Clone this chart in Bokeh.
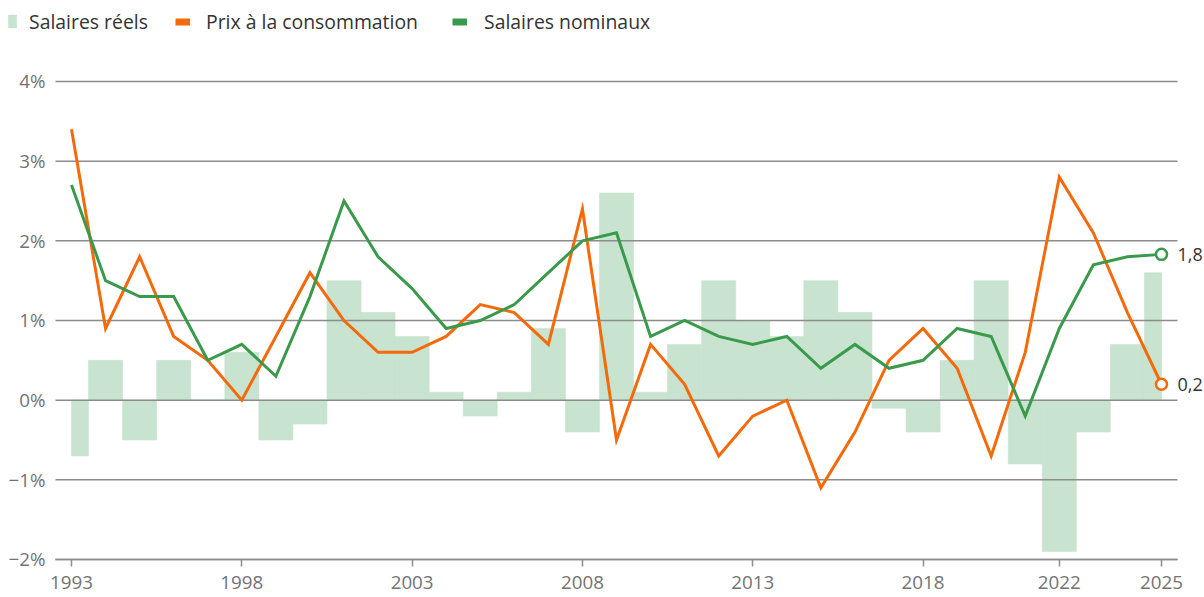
import numpy as np
from bokeh.plotting import figure
from bokeh.models import Range1d, FixedTicker, Legend, LegendItem, ColumnDataSource
from bokeh.core.properties import value
from bokeh.embed import file_html
from bokeh.resources import INLINE

# ---------------- data ----------------
years = list(range(1993, 2026))
salaires_reels = [-0.7, 0.5, -0.5, 0.5, 0.0, 0.6, -0.5, -0.3, 1.5, 1.1, 0.8, 0.1, -0.2, 0.1, 0.9,
                  -0.4, 2.6, 0.1, 0.7, 1.5, 1.0, 0.8, 1.5, 1.1, -0.1, -0.4, 0.5, 1.5, -0.8, -1.9,
                  -0.4, 0.7, 1.6]
prix_conso = [3.4, 0.9, 1.8, 0.8, 0.5, 0.0, 0.8, 1.6, 1.0, 0.6, 0.6, 0.8, 1.2, 1.1, 0.7, 2.4,
              -0.5, 0.7, 0.2, -0.7, -0.2, 0.0, -1.1, -0.4, 0.5, 0.9, 0.4, -0.7, 0.6, 2.8, 2.1,
              1.1, 0.2]
salaires_nominaux = [2.7, 1.5, 1.3, 1.3, 0.5, 0.7, 0.3, 1.3, 2.5, 1.8, 1.4, 0.9, 1.0, 1.2, 1.6,
                     2.0, 2.1, 0.8, 1.0, 0.8, 0.7, 0.8, 0.4, 0.7, 0.4, 0.5, 0.9, 0.8, -0.2, 0.9,
                     1.7, 1.8, 1.83]
x_ticks = [1993, 1998, 2003, 2008, 2013, 2018, 2022, 2025]
y_ticks = [-2, -1, 0, 1, 2, 3, 4]
legend_labels = ["Salaires réels", "Prix à la consommation", "Salaires nominaux"]

# ---------------- style ----------------
ORANGE = "#f46a0a"
GREEN = "#3a9a4c"
BAR = "#c8e3cf"
GRID = "#8c8c8c"
TICK_TXT = "#737373"
TXT = "#333333"
FONT = "Open Sans"
TICK_SIZE = "18.8px"
LEGEND_SIZE = "19.4px"

W, H = 1204, 597
# the frame covers the whole canvas; axes are pinned inside it
X_START, X_END = 1990.9156, 2026.2624
X_GRID_START, X_GRID_END = 1992.53, 2025.47
Y_START, Y_END = -2.477, 5.0167

p = figure(width=W, height=H, output_backend="svg", toolbar_location=None,
           x_range=Range1d(X_START, X_END), y_range=Range1d(Y_START, Y_END),
           min_border_left=0, min_border_right=0, min_border_top=0, min_border_bottom=0)
p.outline_line_color = None
p.background_fill_color = "white"
p.border_fill_color = "white"

# horizontal grid lines
n = len(y_ticks)
p.segment(x0=[X_GRID_START] * n, x1=[X_GRID_END] * n, y0=y_ticks, y1=y_ticks,
          line_color=GRID, line_width=1.5, level="underlay")

# bars (step-like, clipped to the first / last year)
yrs = np.array(years, dtype=float)
left = np.maximum(yrs - 0.5, years[0])
right = np.minimum(yrs + 0.5, years[-1])
bar_src = ColumnDataSource(dict(left=left, right=right, top=salaires_reels,
                                bottom=np.zeros(len(years))))
bars = p.quad(left="left", right="right", top="top", bottom="bottom", source=bar_src,
              fill_color=BAR, line_color=BAR, line_width=0.6, level="image")

l_prix = p.line(years, prix_conso, line_color=ORANGE, line_width=3, line_join="miter")
l_nom = p.line(years, salaires_nominaux, line_color=GREEN, line_width=3, line_join="miter")

# end markers + labels
def fmt(v):
    return f"{v:.1f}".replace(".", ",")

p.scatter([years[-1]], [salaires_nominaux[-1]], size=11, marker="circle",
          fill_color="white", line_color=GREEN, line_width=2.5)
p.scatter([years[-1]], [prix_conso[-1]], size=11, marker="circle",
          fill_color="white", line_color=ORANGE, line_width=2.5)
p.text(x=[years[-1], years[-1]], y=[salaires_nominaux[-1], prix_conso[-1]],
       text=[fmt(salaires_nominaux[-1]), fmt(prix_conso[-1])],
       x_offset=16, text_baseline="middle", text_align="left",
       text_font=value(FONT), text_font_size="18px", text_color=TXT)

# axes (pinned inside the frame)
p.xaxis.fixed_location = y_ticks[0]
p.xaxis.ticker = FixedTicker(ticks=x_ticks)
p.xaxis.bounds = (X_GRID_START, X_GRID_END)
p.xaxis.minor_tick_line_color = None
p.xaxis.major_tick_in = 0
p.xaxis.major_tick_out = 7
p.xaxis.major_tick_line_color = GRID
p.xaxis.major_tick_line_width = 1.5
p.xaxis.axis_line_color = GRID
p.xaxis.axis_line_width = 1.5
p.xaxis.major_label_standoff = 10
p.xaxis.major_label_text_font = FONT
p.xaxis.major_label_text_font_size = TICK_SIZE
p.xaxis.major_label_text_color = TICK_TXT

p.yaxis.fixed_location = X_GRID_START
p.yaxis.ticker = FixedTicker(ticks=y_ticks)
p.yaxis.major_label_overrides = {t: (("\u2212" if t < 0 else "") + f"{abs(t)}%") for t in y_ticks}
p.yaxis.axis_line_color = None
p.yaxis.major_tick_line_color = None
p.yaxis.minor_tick_line_color = None
p.yaxis.major_tick_in = 0
p.yaxis.major_tick_out = 0
p.yaxis.major_label_standoff = 10
p.yaxis.major_label_text_font = FONT
p.yaxis.major_label_text_font_size = TICK_SIZE
p.yaxis.major_label_text_color = TICK_TXT

p.xgrid.visible = False
p.ygrid.visible = False

# legend swatches for the lines: thick copies of the series, hidden in the plot
proxy_o = p.line(years, prix_conso, line_color=ORANGE, line_width=7, visible=False)
proxy_g = p.line(years, salaires_nominaux, line_color=GREEN, line_width=7, visible=False)

def make_legend(label, renderer, loc, gw, gh, standoff):
    lg = Legend(items=[LegendItem(label=label, renderers=[renderer])],
                location=loc, orientation="horizontal", click_policy="none",
                glyph_width=gw, glyph_height=gh, label_standoff=standoff,
                label_height=27, padding=0, margin=0, spacing=0,
                border_line_color=None, background_fill_alpha=0,
                label_text_font=FONT, label_text_font_size=LEGEND_SIZE,
                label_text_color=TXT, label_text_baseline="alphabetic")
    p.add_layout(lg, "center")

make_legend(legend_labels[0], bars, (7, 562.5), 10, 16, 12)
make_legend(legend_labels[1], proxy_o, (175, 562), 15, 19, 16)
make_legend(legend_labels[2], proxy_g, (452, 562), 15, 19, 17)

open("out.html", "w").write(file_html(p, INLINE))
